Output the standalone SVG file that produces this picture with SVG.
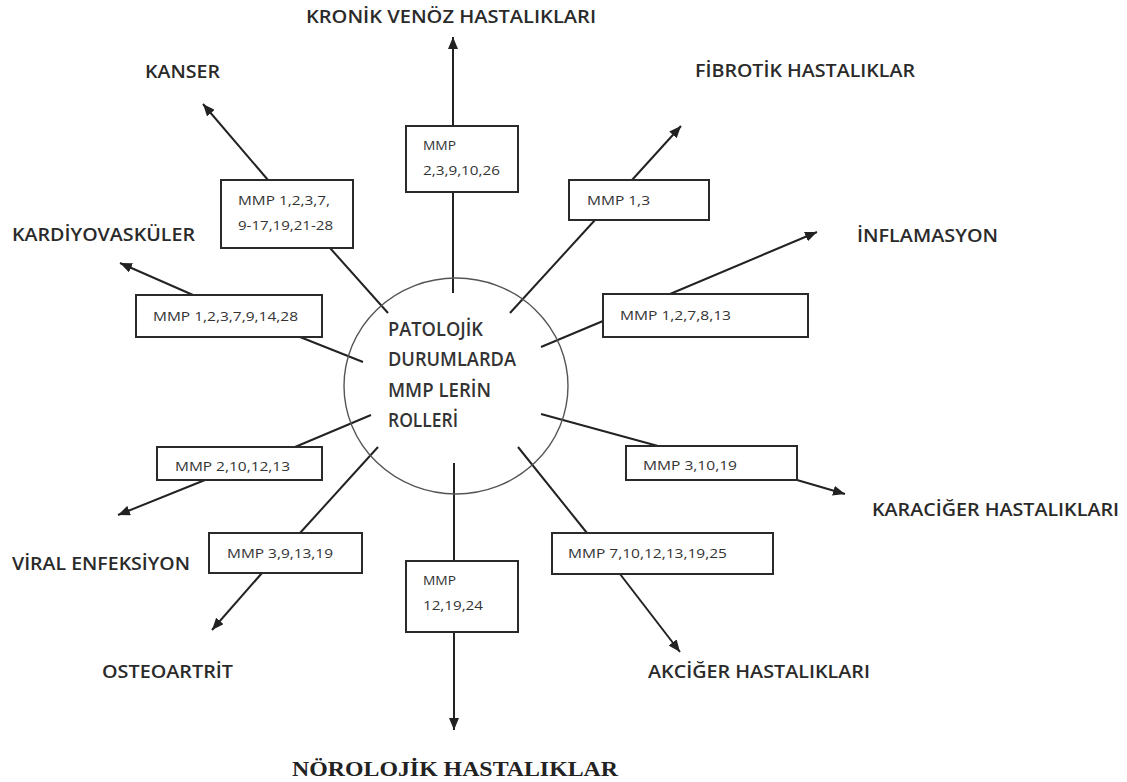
<svg xmlns="http://www.w3.org/2000/svg" width="1127" height="782" viewBox="0 0 1127 782">
<style>
.lbl{font-family:"Open Sans","Noto Sans",sans-serif;font-size:18px;font-weight:600;fill:#2a2a2a;}
.box{fill:#fff;stroke:#2a2a2a;stroke-width:2;}
.bt{font-family:"Open Sans","Noto Sans",sans-serif;font-size:13.5px;font-weight:500;fill:#333;}
.ct{font-family:"Open Sans","Noto Sans",sans-serif;font-size:19px;font-weight:600;fill:#333;}
.ln{stroke:#222;stroke-width:2;fill:none;}
.ar{stroke:#222;stroke-width:2;fill:none;marker-end:url(#ah);}
.serif{font-family:"Liberation Serif","Times New Roman",serif;font-size:22px;font-weight:bold;fill:#222;}
</style>
<defs>
<marker id="ah" markerUnits="userSpaceOnUse" markerWidth="13" markerHeight="10" refX="12" refY="5" orient="auto" viewBox="0 0 13 10">
<path d="M0,0 L12,5 L0,10 z" fill="#222"/>
</marker>
</defs>
<rect width="1127" height="782" fill="#fff"/>

<g id="connectors">
<line class="ln" x1="453" y1="293" x2="453" y2="192"/>
<line class="ar" x1="453" y1="126" x2="453" y2="37"/>
<line class="ln" x1="388" y1="313" x2="330" y2="248"/>
<line class="ar" x1="268" y1="180" x2="203" y2="104"/>
<line class="ln" x1="510" y1="313" x2="595" y2="220"/>
<line class="ar" x1="632" y1="180" x2="681" y2="126"/>
<line class="ln" x1="541" y1="347" x2="603" y2="321"/>
<line class="ar" x1="670" y1="294" x2="817" y2="232"/>
<line class="ln" x1="363" y1="362" x2="300" y2="337"/>
<line class="ar" x1="193" y1="295" x2="120" y2="263"/>
<line class="ln" x1="371" y1="415" x2="295" y2="447"/>
<line class="ar" x1="205" y1="480" x2="118" y2="515"/>
<line class="ln" x1="378" y1="447" x2="300" y2="533"/>
<line class="ar" x1="262" y1="573" x2="212" y2="630"/>
<line class="ln" x1="454" y1="463" x2="454" y2="561"/>
<line class="ar" x1="454" y1="632" x2="454" y2="730"/>
<line class="ln" x1="518" y1="447" x2="587" y2="533"/>
<line class="ar" x1="620" y1="574" x2="680" y2="652"/>
<line class="ln" x1="541" y1="414" x2="658" y2="446"/>
<line class="ar" x1="797" y1="480" x2="845" y2="494"/>
</g>

<g id="center">
<ellipse cx="456" cy="386" rx="112" ry="108" fill="none" stroke="#555" stroke-width="1.4"/>
<text class="ct" x="388" y="336" textLength="95" lengthAdjust="spacingAndGlyphs">PATOLOJİK</text>
<text class="ct" x="388" y="366" textLength="128" lengthAdjust="spacingAndGlyphs">DURUMLARDA</text>
<text class="ct" x="388" y="397" textLength="103" lengthAdjust="spacingAndGlyphs">MMP LERİN</text>
<text class="ct" x="388" y="427" textLength="70" lengthAdjust="spacingAndGlyphs">ROLLERİ</text>
</g>

<g id="box-kronik">
<rect class="box" x="406" y="126" width="112" height="66"/>
<text class="bt" x="423" y="150" textLength="33" lengthAdjust="spacingAndGlyphs">MMP</text>
<text class="bt" x="423" y="175" textLength="77" lengthAdjust="spacingAndGlyphs">2,3,9,10,26</text>
</g>
<g id="box-kanser">
<rect class="box" x="221" y="180" width="132" height="68"/>
<text class="bt" x="238" y="205" textLength="92" lengthAdjust="spacingAndGlyphs">MMP 1,2,3,7,</text>
<text class="bt" x="238" y="230" textLength="95" lengthAdjust="spacingAndGlyphs">9-17,19,21-28</text>
</g>
<g id="box-fibrotik">
<rect class="box" x="569" y="180" width="140" height="40"/>
<text class="bt" x="587" y="205" textLength="63" lengthAdjust="spacingAndGlyphs">MMP 1,3</text>
</g>
<g id="box-inflamasyon">
<rect class="box" x="603" y="294" width="205" height="43"/>
<text class="bt" x="620" y="320" textLength="111" lengthAdjust="spacingAndGlyphs">MMP 1,2,7,8,13</text>
</g>
<g id="box-kardiyo">
<rect class="box" x="136" y="295" width="186" height="42"/>
<text class="bt" x="153" y="321" textLength="145" lengthAdjust="spacingAndGlyphs">MMP 1,2,3,7,9,14,28</text>
</g>
<g id="box-viral">
<rect class="box" x="157" y="447" width="165" height="33"/>
<text class="bt" x="175" y="471" textLength="115" lengthAdjust="spacingAndGlyphs">MMP 2,10,12,13</text>
</g>
<g id="box-osteo">
<rect class="box" x="209" y="533" width="153" height="40"/>
<text class="bt" x="227" y="558" textLength="106" lengthAdjust="spacingAndGlyphs">MMP 3,9,13,19</text>
</g>
<g id="box-norolojik">
<rect class="box" x="406" y="561" width="112" height="71"/>
<text class="bt" x="423" y="585" textLength="33" lengthAdjust="spacingAndGlyphs">MMP</text>
<text class="bt" x="423" y="610" textLength="60" lengthAdjust="spacingAndGlyphs">12,19,24</text>
</g>
<g id="box-karaciger">
<rect class="box" x="626" y="446" width="171" height="34"/>
<text class="bt" x="643" y="470" textLength="94" lengthAdjust="spacingAndGlyphs">MMP 3,10,19</text>
</g>
<g id="box-akciger">
<rect class="box" x="552" y="533" width="221" height="41"/>
<text class="bt" x="568" y="558" textLength="159" lengthAdjust="spacingAndGlyphs">MMP 7,10,12,13,19,25</text>
</g>

<g id="labels">
<text class="lbl" x="306" y="23" textLength="290" lengthAdjust="spacingAndGlyphs">KRONİK VENÖZ HASTALIKLARI</text>
<text class="lbl" x="145" y="78" textLength="75" lengthAdjust="spacingAndGlyphs">KANSER</text>
<text class="lbl" x="695" y="77" textLength="220" lengthAdjust="spacingAndGlyphs">FİBROTİK HASTALIKLAR</text>
<text class="lbl" x="857" y="242" textLength="141" lengthAdjust="spacingAndGlyphs">İNFLAMASYON</text>
<text class="lbl" x="12" y="241" textLength="183" lengthAdjust="spacingAndGlyphs">KARDİYOVASKÜLER</text>
<text class="lbl" x="872" y="516" textLength="247" lengthAdjust="spacingAndGlyphs">KARACİĞER HASTALIKLARI</text>
<text class="lbl" x="12" y="570" textLength="178" lengthAdjust="spacingAndGlyphs">VİRAL ENFEKSİYON</text>
<text class="lbl" x="102" y="678" textLength="131" lengthAdjust="spacingAndGlyphs">OSTEOARTRİT</text>
<text class="lbl" x="648" y="678" textLength="222" lengthAdjust="spacingAndGlyphs">AKCİĞER HASTALIKLARI</text>
<text class="serif" x="292" y="776" textLength="326" lengthAdjust="spacingAndGlyphs">NÖROLOJİK HASTALIKLAR</text>
</g>
</svg>
